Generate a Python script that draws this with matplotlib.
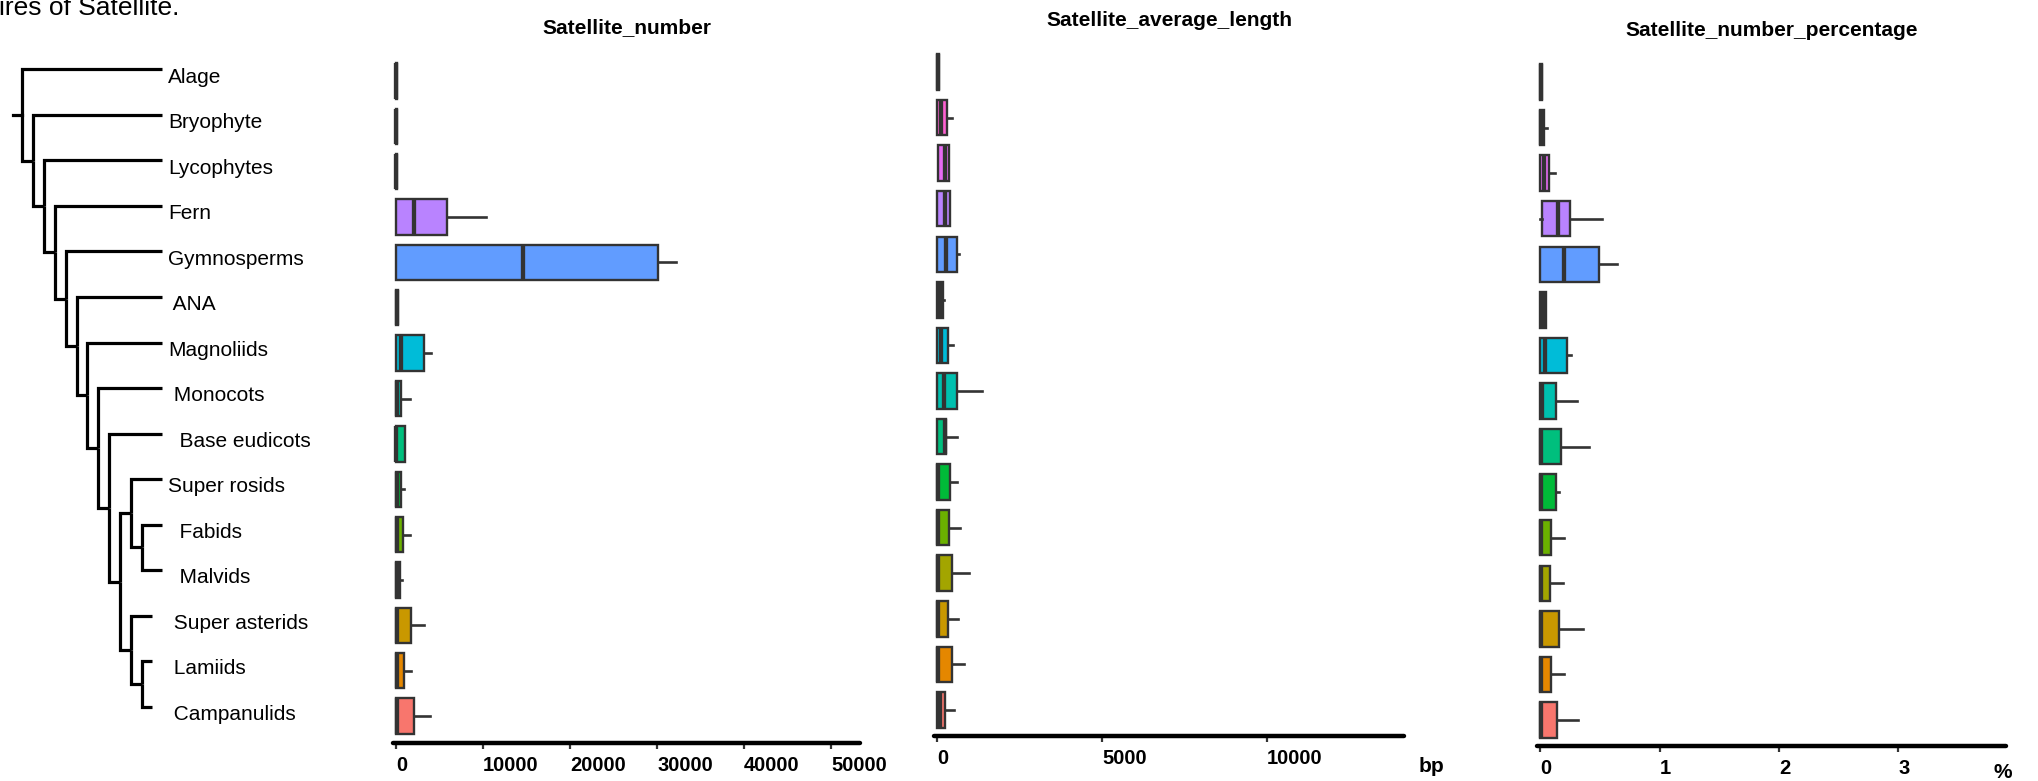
import numpy as np
import matplotlib
matplotlib.use('Agg')
import matplotlib.pyplot as plt

plt.rcParams['font.family'] = ['Liberation Sans', 'DejaVu Sans']

W, H = 2038, 781
DARK = '#333333'

groups = ['Alage', 'Bryophyte', 'Lycophytes', 'Fern', 'Gymnosperms', 'ANA',
          'Magnoliids', 'Monocots', 'Base eudicots', 'Super rosids', 'Fabids',
          'Malvids', 'Super asterids', 'Lamiids', 'Campanulids']
# shown names (leading spaces as in the original labels)
tip_labels = ['Alage', 'Bryophyte', 'Lycophytes', 'Fern', 'Gymnosperms', ' ANA',
              'Magnoliids', ' Monocots', '  Base eudicots', 'Super rosids', '  Fabids',
              '  Malvids', ' Super asterids', ' Lamiids', ' Campanulids']
colors = ['#FF67A4', '#FD61D1', '#E76BF3', '#B983FF', '#619CFF', '#00B0F6',
          '#00BCD8', '#00C0AF', '#00BF7D', '#00BA38', '#6BB100', '#A3A500',
          '#C99800', '#E58700', '#F8766D']

rosids = ('Super rosids', ('Fabids', 'Malvids'))
asterids = ('Super asterids', ('Lamiids', 'Campanulids'))
tree = ('Alage', ('Bryophyte', ('Lycophytes', ('Fern', ('Gymnosperms', ('ANA', ('Magnoliids', (
    'Monocots', ('Base eudicots', (rosids, asterids))))))))))
short_tips = ['Super asterids', 'Lamiids', 'Campanulids']

# Satellite_number
num_lo = [0, 0, 0, 0, 0, 0, 0, 0, 0, 0, 0, 0, 0, 0, 0]
num_q1 = [0, 0, 0, 50, 30, 0, 20, 0, 0, 0, 0, 0, 0, 0, 0]
num_med = [20, 20, 30, 2090, 14640, 100, 540, 120, 40, 150, 100, 60, 80, 100, 100]
num_q3 = [60, 70, 120, 5900, 30080, 280, 3200, 620, 1000, 540, 800, 420, 1700, 880, 2070]
num_hi = [60, 70, 120, 10300, 32150, 280, 4060, 1620, 1000, 920, 1650, 650, 3180, 1760, 3950]

# Satellite_average_length (bp)
len_lo = [0, 0, 20, 0, 0, 0, 0, 0, 0, 0, 0, 0, 0, 0, 0]
len_q1 = [0, 0, 20, 10, 0, 10, 0, 0, 0, 0, 0, 0, 0, 0, 0]
len_med = [30, 120, 240, 230, 260, 100, 130, 200, 230, 20, 20, 20, 20, 20, 80]
len_q3 = [70, 290, 370, 390, 620, 190, 320, 600, 280, 380, 350, 440, 330, 440, 250]
len_hi = [70, 465, 370, 390, 660, 220, 470, 1370, 600, 610, 690, 970, 650, 820, 520]

# Satellite_number_percentage (%)
pct_lo = [0, 0, 0, 0, 0, 0, 0, 0, 0, 0, 0, 0, 0, 0, 0]
pct_q1 = [0, 0, 0, 0.014, 0, 0, 0, 0, 0, 0, 0, 0, 0, 0, 0]
pct_med = [0.005, 0.01, 0.03, 0.15, 0.2, 0.02, 0.04, 0.015, 0.005, 0.005, 0.005, 0.005, 0.005, 0.005, 0.01]
pct_q3 = [0.015, 0.033, 0.075, 0.25, 0.49, 0.045, 0.226, 0.13, 0.17, 0.13, 0.09, 0.08, 0.155, 0.09, 0.14]
pct_hi = [0.015, 0.06, 0.12, 0.52, 0.64, 0.045, 0.26, 0.31, 0.41, 0.155, 0.2, 0.19, 0.36, 0.2, 0.32]


def fx(px):
    return px / W


def fy(py):
    return 1 - py / H


def px_axes(fig, left, right, top, bottom):
    return fig.add_axes([fx(left), fy(bottom), (right - left) / W, (bottom - top) / H])


def box_panel(ax, lo, q1, med, q3, hi, xlim, ylim, ticks):
    stats = [dict(whislo=a, q1=b, med=c, q3=d, whishi=e)
             for a, b, c, d, e in zip(lo, q1, med, q3, hi)]
    bp = ax.bxp(stats, positions=np.arange(len(stats)), widths=0.78,
                orientation='horizontal', patch_artist=True, showcaps=False,
                showfliers=False, manage_ticks=False,
                boxprops=dict(edgecolor=DARK, linewidth=1.7),
                whiskerprops=dict(color=DARK, linewidth=1.9),
                medianprops=dict(color=DARK, linewidth=3.1, solid_capstyle='butt'))
    for patch, c in zip(bp['boxes'], colors):
        patch.set_facecolor(c)
    ax.set_xlim(xlim)
    ax.set_ylim(ylim)
    ax.set_yticks([])
    for s in ['top', 'left', 'right']:
        ax.spines[s].set_visible(False)
    ax.spines['bottom'].set_linewidth(3.2)
    ax.spines['bottom'].set_color('black')
    ax.spines['bottom'].set_capstyle('round')
    ax.set_xticks(ticks)
    ax.set_xticklabels([str(t) for t in ticks])
    ax.tick_params(axis='x', length=4.5, width=1.6, color=DARK, pad=5,
                   labelsize=14.5, labelcolor='black')
    for lab in ax.get_xticklabels():
        lab.set_fontweight('bold')
        lab.set_ha('left')


fig = plt.figure(figsize=(W / 100, H / 100), dpi=100)

# ---- tree ----
ax_t = fig.add_axes([0, 0, 380 / W, 1])
ax_t.axis('off')
ax_t.set_xlim(-2.018, 32.84)
ax_t.set_ylim(15.63, -1.522)
TIP_X = 12.84
SHORT_X = 11.93
order = []


def walk(node, d):
    if isinstance(node, str):
        order.append(node)
        return len(order) - 1
    ys = [walk(child, d + 1) for child in node]
    mid = (min(ys) + max(ys)) / 2
    for child, cy in zip(node, ys):
        if isinstance(child, str):
            x_end = SHORT_X if child in short_tips else TIP_X
        else:
            x_end = d + 1
        ax_t.plot([d, d, x_end], [mid, cy, cy], color='black', lw=2.3,
                  solid_joinstyle='miter', solid_capstyle='butt')
    return mid


root_y = walk(tree, 0)
ax_t.plot([-0.83, 0], [root_y, root_y], color='black', lw=2.3)
for i, name in enumerate(order):
    ax_t.text(TIP_X + 0.55, i + 0.17, tip_labels[groups.index(name)],
              fontsize=15, ha='left', va='center')

# ---- panels ----
ax1 = px_axes(fig, 393, 860, 40, 742.8)
box_panel(ax1, num_lo, num_q1, num_med, num_q3, num_hi,
          (-345, 53333), (14.59, -0.904), [0, 10000, 20000, 30000, 40000, 50000])

ax2 = px_axes(fig, 934.3, 1404, 40, 735.5)
box_panel(ax2, len_lo, len_q1, len_med, len_q3, len_hi,
          (-82, 14150), (14.56, -0.702), [0, 5000, 10000])

ax3 = px_axes(fig, 1537.3, 2006, 40, 745.5)
box_panel(ax3, pct_lo, pct_q1, pct_med, pct_q3, pct_hi,
          (-0.025, 3.904), (14.56, -0.922), [0, 1, 2, 3])

fig.text(fx(626.5), fy(28), 'Satellite_number', ha='center', va='center',
         fontsize=15, fontweight='bold')
fig.text(fx(1169), fy(21), 'Satellite_average_length', ha='center', va='center',
         fontsize=15, fontweight='bold')
fig.text(fx(1771.6), fy(31), 'Satellite_number_percentage', ha='center', va='center',
         fontsize=15, fontweight='bold')
fig.text(fx(1419), fy(766), 'bp', ha='left', va='center', fontsize=15, fontweight='bold')
fig.text(fx(1994), fy(772), '%', ha='left', va='center', fontsize=15, fontweight='bold')

fig.text(fx(-1), fy(15), 'ires of Satellite.', ha='left', va='baseline', fontsize=19)

fig.savefig('out.png', dpi=100, facecolor='white')
